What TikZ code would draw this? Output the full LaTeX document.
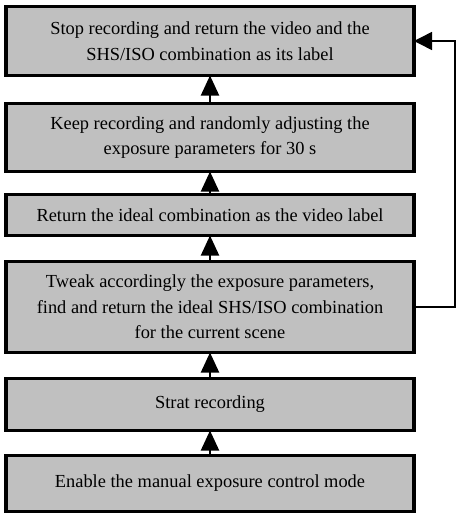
\documentclass[tikz,border=0pt]{standalone}
\usepackage{fontspec}
\setmainfont{Liberation Serif}
\usetikzlibrary{arrows.meta}
\begin{document}
\begin{tikzpicture}[x=1pt,y=-1pt,
  box/.style={draw=black, line width=3.5pt, fill=boxgray, minimum width=408pt, inner sep=0pt, align=center,
    font=\fontsize{18.4}{25.5}\selectfont},
  up/.style={line width=2pt, -{Triangle[width=18pt,length=20pt]}, shorten >=-1.75pt},
  back/.style={line width=1.5pt, -{Triangle[width=18pt,length=18pt]}, shorten >=-1.75pt}]
\definecolor{boxgray}{HTML}{C0C0C0}
\useasboundingbox (0,0) rectangle (462,517);
\node[box, minimum height=69pt] (b1) at (210,41) {Stop recording and return the video and the\\SHS/ISO combination as its label};
\node[box, minimum height=68pt] (b2) at (210,137.5) {Keep recording and randomly adjusting the\\exposure parameters for 30 s};
\node[box, minimum height=41pt] (b3) at (210,215) {Return the ideal combination as the video label};
\node[box, minimum height=91pt] (b4) at (210,307) {Tweak accordingly the exposure parameters,\\find and return the ideal SHS/ISO combination\\for the current scene};
\node[box, minimum height=52pt] (b5) at (210,404.5) {Strat recording};
\node[box, minimum height=56pt] (b6) at (210,483.5) {Enable the manual exposure control mode};
\draw[up] (b2) -- (b1);
\draw[up] (b3) -- (b2);
\draw[up] (b4) -- (b3);
\draw[up] (b5) -- (b4);
\draw[up] (b6) -- (b5);
\coordinate (r) at (455,0);
\draw[back] (b4.east) -- (b4.east -| r) |- (b1.east);
\end{tikzpicture}
\end{document}
